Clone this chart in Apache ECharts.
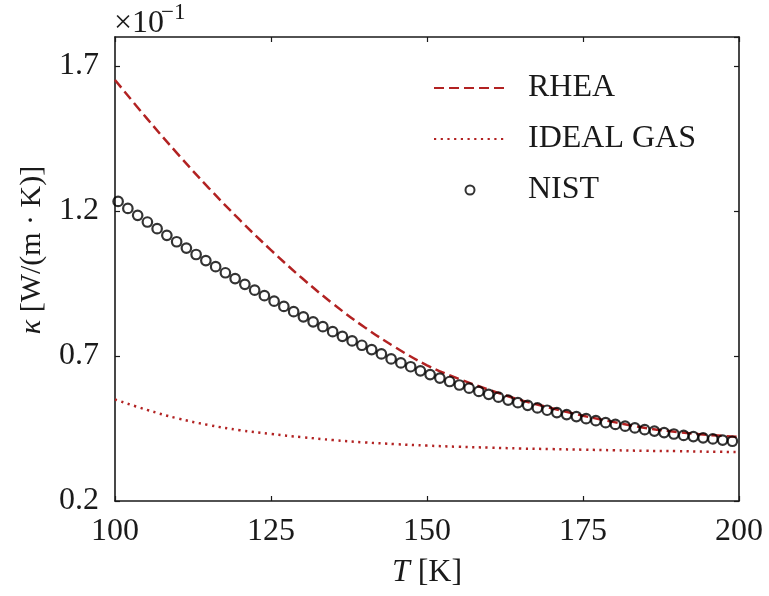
<!DOCTYPE html>
<html>
<head>
<meta charset="utf-8">
<script src="https://cdn.jsdelivr.net/npm/echarts@6/dist/echarts.min.js"></script>
<style>
  html, body { margin: 0; padding: 0; background: #fff; }
  #container { width: 769px; height: 596px; }
</style>
</head>
<body>
<div id="container"></div>
<script>
// temperature grid of the model curves [K]
let modelT = [100, 105, 110, 115, 120, 125, 130, 135, 140, 145, 150,
              155, 160, 165, 170, 175, 180, 185, 190, 195, 200];
// thermal conductivity, units of 1e-1 W/(m K)
let rhea = [1.652, 1.522, 1.398, 1.280, 1.169, 1.065, 0.968, 0.879, 0.799, 0.729, 0.668,
            0.622, 0.583, 0.548, 0.520, 0.494, 0.472, 0.452, 0.438, 0.428, 0.421];
let idealGas = [0.550, 0.515, 0.485, 0.462, 0.444, 0.431, 0.420, 0.410, 0.402, 0.396, 0.391,
                0.387, 0.384, 0.381, 0.379, 0.377, 0.375, 0.373, 0.372, 0.370, 0.369];

let nistT = [100.5, 102.06, 103.63, 105.19, 106.75, 108.31, 109.88, 111.44, 113.0, 114.56,
             116.13, 117.69, 119.25, 120.81, 122.38, 123.94, 125.5, 127.06, 128.63, 130.19,
             131.75, 133.31, 134.88, 136.44, 138.0, 139.56, 141.13, 142.69, 144.25, 145.81,
             147.38, 148.94, 150.5, 152.06, 153.63, 155.19, 156.75, 158.31, 159.88, 161.44,
             163.0, 164.56, 166.13, 167.69, 169.25, 170.81, 172.38, 173.94, 175.5, 177.06,
             178.63, 180.19, 181.75, 183.31, 184.88, 186.44, 188.0, 189.56, 191.13, 192.69,
             194.25, 195.81, 197.38, 198.94];
let nist = [1.233, 1.209, 1.185, 1.162, 1.139, 1.116, 1.094, 1.072, 1.050, 1.029,
            1.008, 0.987, 0.967, 0.947, 0.927, 0.908, 0.889, 0.871, 0.853, 0.835,
            0.818, 0.801, 0.784, 0.768, 0.752, 0.737, 0.722, 0.707, 0.690, 0.676,
            0.663, 0.649, 0.636, 0.624, 0.612, 0.600, 0.589, 0.578, 0.568, 0.558,
            0.548, 0.539, 0.530, 0.521, 0.513, 0.505, 0.498, 0.491, 0.484, 0.477,
            0.470, 0.464, 0.458, 0.452, 0.446, 0.441, 0.436, 0.431, 0.426, 0.422,
            0.418, 0.414, 0.410, 0.406];

let font = '"Liberation Serif", "DejaVu Serif", serif';
let ink = '#1a1a1a';
let red = '#b22222';

function pairs(xs, ys) {
    return xs.map(function (x, i) { return [x, ys[i]]; });
}

let dom = document.getElementById('container');
let myChart = echarts.init(dom);

let tickStyle = { show: true, inside: true, length: 5, lineStyle: { color: ink, width: 1.2 } };
let lineStyleAxis = { show: true, lineStyle: { color: ink, width: 1.6 } };
// hide the marker that line series put in the middle of their legend icon
let noMarker = { color: 'rgba(0,0,0,0)', borderWidth: 0, opacity: 0 };

option = {
    animation: false,
    backgroundColor: '#fff',
    grid: { left: 115, right: 30, top: 37, bottom: 95 },
    legend: {
        orient: 'vertical',
        left: 428,
        top: 67,
        itemWidth: 72,
        itemHeight: 9,
        itemGap: 19,
        textStyle: { fontFamily: font, fontSize: 32, color: ink, lineHeight: 32, padding: [0, 0, 0, 17] },
        data: [
            { name: 'RHEA', itemStyle: noMarker },
            { name: 'IDEAL GAS', itemStyle: noMarker },
            'NIST'
        ]
    },
    graphic: [
        { type: 'text', left: 114, top: 8,
          style: { text: '×10', fontSize: 32, fontFamily: font, fill: ink } },
        { type: 'text', left: 161, top: 1,
          style: { text: '−1', fontSize: 23, fontFamily: font, fill: ink } }
    ],
    xAxis: [
        {
            type: 'value', min: 100, max: 200, interval: 25,
            name: '{i|T} [K]', nameLocation: 'middle', nameGap: 56,
            nameTextStyle: {
                fontFamily: font, fontSize: 32, color: ink,
                rich: { i: { fontFamily: font, fontSize: 32, fontStyle: 'italic', color: ink } }
            },
            axisLine: lineStyleAxis, axisTick: tickStyle, splitLine: { show: false },
            axisLabel: { fontFamily: font, fontSize: 32, color: ink, margin: 15 }
        },
        {
            type: 'value', position: 'top', min: 100, max: 200, interval: 25,
            axisLine: lineStyleAxis, axisTick: tickStyle, splitLine: { show: false },
            axisLabel: { show: false }
        }
    ],
    yAxis: [
        {
            type: 'value', min: 0.2, max: 1.8, interval: 0.5,
            name: '{i|κ} [W/(m · K)]', nameLocation: 'middle', nameGap: 68, nameRotate: 90,
            nameTextStyle: {
                fontFamily: font, fontSize: 30, color: ink, padding: [0, 0, 0, 38],
                rich: { i: { fontFamily: font, fontSize: 30, fontStyle: 'italic', color: ink } }
            },
            axisLine: lineStyleAxis, axisTick: tickStyle, splitLine: { show: false },
            axisLabel: {
                fontFamily: font, fontSize: 32, color: ink, margin: 16, showMaxLabel: false,
                formatter: function (v) { return v.toFixed(1); }
            }
        },
        {
            type: 'value', position: 'right', min: 0.2, max: 1.8, interval: 0.5,
            axisLine: lineStyleAxis, axisTick: tickStyle, splitLine: { show: false },
            axisLabel: { show: false }
        }
    ],
    series: [
        {
            name: 'RHEA', type: 'line', symbol: 'none', smooth: 0.4,
            data: pairs(modelT, rhea),
            lineStyle: { color: red, width: 2.5, type: [10, 5] },
            itemStyle: { color: red }
        },
        {
            name: 'IDEAL GAS', type: 'line', symbol: 'none', smooth: 0.4,
            data: pairs(modelT, idealGas),
            lineStyle: { color: red, width: 2.5, type: [2.2, 4.5] },
            itemStyle: { color: red }
        },
        {
            name: 'NIST', type: 'scatter', symbol: 'circle', symbolSize: 9.5,
            data: pairs(nistT, nist),
            itemStyle: { color: 'rgba(255,255,255,0)', borderColor: '#000', borderWidth: 2.2 },
            z: 3
        }
    ]
};
if (option && typeof option === "object") {
    myChart.setOption(option, true);
}
</script>
</body>
</html>
